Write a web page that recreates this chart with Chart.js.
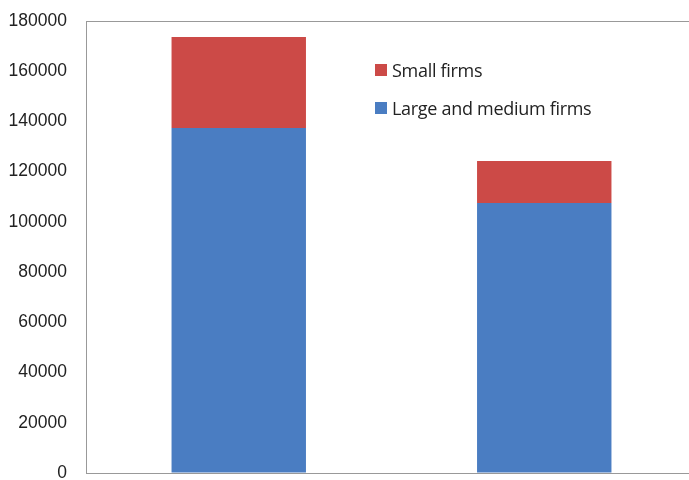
<!DOCTYPE html>
<html>
<head>
<meta charset="utf-8">
<script src="https://cdn.jsdelivr.net/npm/chart.js@4/dist/chart.umd.min.js"></script>
<style>
  html, body { margin: 0; padding: 0; background: #fff; overflow: hidden; }
  #wrap { position: relative; width: 689px; height: 480px; overflow: hidden; }
  #grafico { position: absolute; left: 0; top: 0; }
  .leg { position: absolute; left: 375px; height: 20px; display: flex; align-items: center; font-family: "Open Sans", sans-serif; font-size: 18px; color: #222; letter-spacing: -0.3px; white-space: nowrap; }
  .leg span { display: inline-block; width: 12px; height: 12px; margin-right: 5px; }
</style>
</head>
<body>
<div id="wrap">
  <canvas id="grafico" width="697" height="480"></canvas>
  <div class="leg" style="top:60px"><span style="background:#cc4a47"></span>Small firms</div>
  <div class="leg" style="top:98px"><span style="background:#4a7dc2"></span>Large and medium firms</div>
</div>
<script>
// Dados
const categorias = ['', ''];
const grandesMedias = [137400, 107500];
const pequenas = [36200, 16700];
const ticksY = [0, 20000, 40000, 60000, 80000, 100000, 120000, 140000, 160000, 180000];

const dataFirmas = {
  labels: categorias,
  datasets: [{
    label: 'Large and medium firms',
    backgroundColor: '#4a7dc2',
    data: grandesMedias,
  }, {
    label: 'Small firms',
    backgroundColor: '#cc4a47',
    data: pequenas,
  }]
};

const configFirmas = {
  type: 'bar',
  data: dataFirmas,
  options: {
    responsive: false,
    animation: false,
    layout: { padding: { top: 21, bottom: 7, right: 0, left: 0 } },
    datasets: { bar: { barPercentage: 0.88, categoryPercentage: 0.5 } },
    plugins: { legend: { display: false }, tooltip: { enabled: false } },
    scales: {
      x: {
        stacked: true,
        grid: { display: false },
        border: { display: true, color: '#999' },
        ticks: { display: false },
        afterFit: (axis) => { axis.height = 0; axis.paddingLeft = 0; axis.paddingRight = 0; }
      },
      y: {
        stacked: true,
        min: 0,
        max: 180000,
        afterBuildTicks: (axis) => { axis.ticks = ticksY.map(v => ({ value: v })); },
        afterFit: (axis) => { axis.width = 86; axis.paddingTop = 0; axis.paddingBottom = 0; },
        grid: {
          drawTicks: false,
          color: (ctx) => ctx.tick && ctx.tick.value === 180000 ? '#999' : 'rgba(0,0,0,0)'
        },
        border: { display: true, color: '#999' },
        ticks: {
          padding: 19,
          color: '#222',
          font: { family: 'Liberation Sans', size: 17.5 },
          callback: (v) => String(v)
        }
      }
    }
  }
};

const myChart = new Chart(document.getElementById('grafico'), configFirmas);
</script>
</body>
</html>
